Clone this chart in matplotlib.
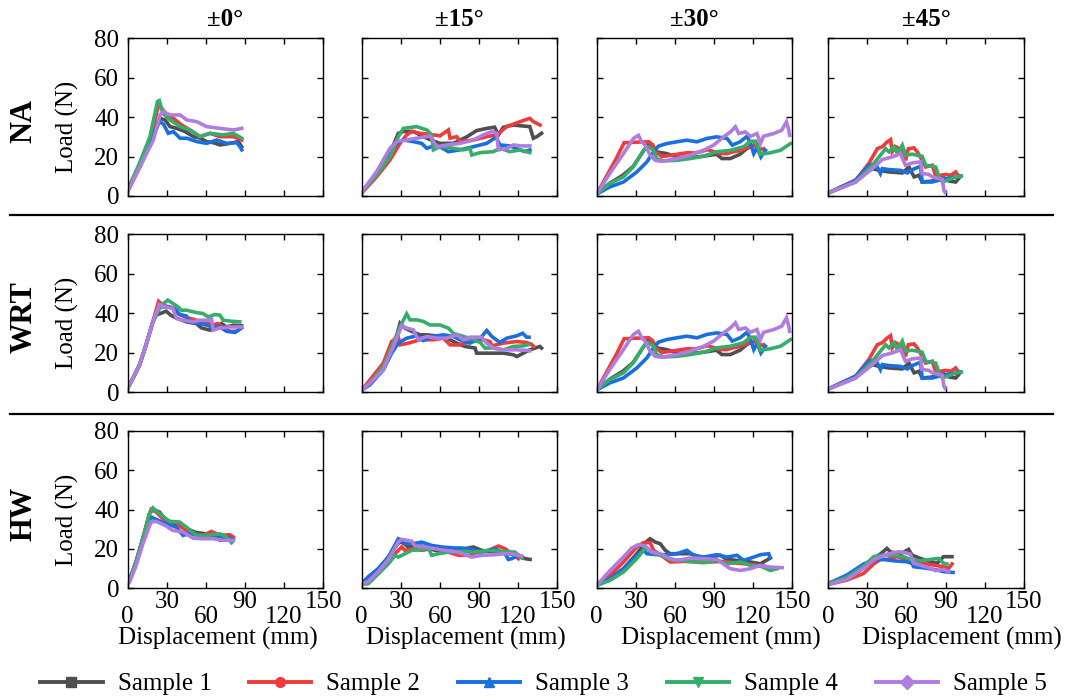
import numpy as np
import matplotlib
matplotlib.use('Agg')
from matplotlib import pyplot as plt
from matplotlib.lines import Line2D

plt.rcParams['font.family'] = ['Liberation Serif', 'DejaVu Serif']
plt.rcParams['axes.linewidth'] = 1.0

samples = ['Sample 1', 'Sample 2', 'Sample 3', 'Sample 4', 'Sample 5']
colors = ['#4f4f4f', '#ef3b3b', '#1a6fdf', '#37ad6b', '#b07ce0']
markers = ['s', 'o', '^', 'v', 'D']
angles = ['±0°', '±15°', '±30°', '±45°']
rows = ['NA', 'WRT', 'HW']
x_ticks = [0, 30, 60, 90, 120, 150]
y_ticks = [0, 20, 40, 60, 80]

# curves per panel: one (displacement, load) list per sample
na_0 = [
    [(0, 3), (9.5, 14.9), (17.1, 26.7), (22.3, 36.9), (24.8, 39.4), (28.6, 38.6), (32.5, 35.2), (37.6, 34.3),
     (44, 32.7), (50.4, 30.1), (55, 29.5), (60.6, 27.6), (66, 27), (70.8, 25.9), (78.5, 26.7), (84.9, 27.6), (87.5, 25)],
    [(0, 3), (9.5, 16.6), (17.1, 28.4), (23.5, 45.7), (26.1, 44.5), (29.9, 41.1), (35, 39.4), (41.4, 36),
     (47.8, 33.5), (55.5, 30.1), (63.2, 31.8), (70.8, 30.1), (81.1, 30.1), (87.5, 28.4)],
    [(0, 3), (9.5, 15.7), (18.4, 28.4), (24.3, 37.7), (27.4, 36.5), (31.2, 31.8), (35, 32.7), (40.2, 29.3),
     (45.3, 29.3), (53, 27.6), (60.6, 26.7), (68.3, 28.4), (76, 26.7), (83.6, 27.1), (86.2, 25), (87.5, 23.4)],
    [(0, 3), (9.5, 17.4), (17.1, 30.1), (22.8, 47.9), (24.3, 48.4), (26.9, 42), (32.5, 38.6), (40.2, 35.2),
     (47.8, 33.5), (55.5, 30.1), (63.2, 31.8), (73.4, 31), (81.1, 31.8), (87.5, 29.3)],
    [(0, 2), (9.5, 14.9), (19.7, 28.4), (24.8, 41.1), (27.4, 42.8), (32.5, 41.1), (40.2, 41.1), (45.3, 38.6),
     (53, 37.7), (60.6, 35.2), (70.8, 34.3), (81.1, 33.5), (87.5, 34.3)],
]

na_15 = [
    [(0, 2), (11.5, 11.5), (21.7, 21.7), (28.1, 31.8), (32, 32.7), (39.6, 32.7), (49.9, 29.3), (60, 26.7),
     (70.3, 26.7), (80.6, 30), (88.2, 33.2), (95.9, 34.3), (102, 34.9), (104.9, 31), (108.7, 34.9), (116.4, 36),
     (124, 35.5), (129, 35.2), (131.7, 29.3), (134.3, 30.1), (138, 31.8)],
    [(0, 1.5), (11.5, 9.8), (21.7, 18.3), (29.4, 26.7), (34.5, 31), (38.4, 32.7), (44.8, 31.8), (55, 31),
     (60, 30.5), (66.5, 33.5), (67.8, 29.3), (72.9, 30.1), (75.4, 27.6), (86, 28.4), (95.9, 30.1), (103.6, 31),
     (111.3, 35.2), (121.5, 37.7), (129, 39.4), (131.7, 37.7), (136.8, 36)],
    [(0, 2), (11.5, 11.5), (21.7, 21.7), (26.9, 26.7), (32, 28.4), (39.6, 27.6), (46, 26.7), (49.9, 24.2),
     (57.6, 25.9), (66.5, 22.5), (75.4, 23.4), (85.6, 25), (95.9, 26.7), (103, 29.8), (106.1, 25.9),
     (113.8, 25.4), (121.5, 23.4), (125.3, 22.5), (129, 23.4)],
    [(0, 2), (11.5, 10.7), (21.7, 20), (28.1, 30.1), (32, 34.3), (42.2, 35.2), (49.9, 33.5), (53.7, 31),
     (55, 23.4), (60, 25), (70.3, 24.2), (78, 23.4), (83.1, 24.2), (84.4, 20.8), (90.8, 22), (101, 22.5),
     (106.1, 24.2), (113.8, 22.5), (121.5, 23.4), (129, 22)],
    [(0, 2), (11.5, 12.4), (21.7, 24.2), (26.9, 27.6), (34.5, 28.4), (42.2, 29.3), (52.4, 30.5), (57.6, 25),
     (65.2, 25.9), (75.4, 26.7), (85.6, 28.4), (93.3, 31), (99.7, 32.7), (103.6, 31.8), (104.9, 23.4),
     (111.3, 24.2), (116.4, 25.9), (121.5, 25.4), (129, 25.4)],
]

na_30 = [
    [(0, 1), (10, 6.5), (20, 10.5), (28, 15), (35, 22), (39.7, 26.6), (46, 22.4), (53.8, 21.5), (61.5, 19.8),
     (71.8, 19.5), (82, 20.2), (92, 21.2), (96, 19), (102.5, 19), (110, 21.2), (115, 24), (120.5, 25.8), (124, 24.6)],
    [(0, 1), (5, 7), (10, 13), (15, 19), (21, 27), (30, 27.3), (40, 27.5), (43, 26), (46, 22), (50, 20),
     (55, 20.5), (60, 21), (65, 21.5), (70, 22), (75, 21.8), (80, 22.5), (85, 23.5), (90, 22.5), (95, 21.5),
     (100, 21.5), (105, 22.5), (110, 23), (115, 24.5), (120, 25.5), (124, 26), (126, 23.5), (128, 24)],
    [(0, 1), (10, 4.6), (20.5, 7.1), (30.8, 12.2), (38.5, 17.3), (43.6, 22.4), (47.4, 25.3), (53.8, 26.6),
     (61.5, 27.5), (69, 28.3), (77, 27.5), (84.6, 29.2), (92, 30), (100, 29.2), (104, 25.8), (110, 27.5),
     (115.4, 30.3), (118, 26.6), (120.5, 21.5), (123, 24.6), (126, 19.8), (129.5, 23.2)],
    [(0, 1), (10, 6.3), (20.5, 9.7), (28, 14.7), (36, 23.2), (39.7, 25), (43.6, 23.2), (46, 19), (51, 17.8),
     (61.5, 18.1), (71.8, 19), (82, 20.2), (92, 22.4), (102.5, 23.2), (112.8, 25), (118, 27.8), (122, 27.8),
     (125.6, 21.2), (133, 21.9), (141, 23.2), (148.7, 26.6)],
    [(0, 1), (10, 11.4), (20.5, 21.5), (28.2, 29.2), (32, 30.8), (34.6, 27.5), (37.2, 25.8), (41, 20.7),
     (44.9, 18.1), (50, 17.6), (61.5, 19), (71.8, 20.7), (82, 23.2), (89.7, 25.8), (97.4, 30), (102.6, 32.5),
     (106.4, 35.1), (109, 31.7), (114, 32.5), (118, 30.3), (123, 31.7), (125.6, 26.6), (128, 30.3), (136, 31.7),
     (142, 33.4), (145.6, 37.6), (147.4, 33.4), (148, 30.8)],
]

na_45 = [
    [(0, 1.5), (21, 8), (33.8, 13.9), (38.9, 13), (46.5, 12.2), (56.8, 11.7), (61.9, 14.7), (65.8, 9.7),
     (69.6, 10.5), (72, 7.1), (79.8, 7.6), (87.5, 9.7), (92.6, 7.6), (97.7, 7.1), (100, 8.8)],
    [(0, 1.5), (3, 2.5), (21, 8), (31, 16.4), (37.6, 24), (41.4, 25), (45.3, 27.5), (47.8, 28.6), (49, 22.4),
     (51.7, 25), (56.8, 23.2), (59.3, 18.1), (61.4, 24), (65.7, 24.4), (68.3, 22.4), (72, 18.1), (74.7, 14.7),
     (79.8, 15.6), (82.4, 10), (90, 11), (94, 10.5), (97.7, 12.2), (99, 11)],
    [(0, 1.5), (21, 8), (31.2, 15.6), (36.3, 16.4), (40, 11.4), (41.4, 13.9), (46.5, 13.4), (55.5, 13),
     (60.6, 11.7), (64.5, 13.4), (70.8, 15.1), (72, 7.1), (79.8, 7.1), (85, 8), (90, 8.8), (97.7, 9.7),
     (101.5, 10.2)],
    [(0, 1.5), (21, 7.1), (33.8, 15.6), (40, 20.7), (44, 24), (46.5, 22.4), (50.4, 25), (53, 21.5),
     (56.8, 25.8), (59.3, 20.7), (64.4, 21.2), (72, 20.2), (74.7, 15.6), (82.4, 14.7), (85, 9.7), (87.5, 7.1),
     (92.6, 8.3), (97.7, 9.7), (102, 10)],
    [(0, 1.5), (21, 7.1), (33.8, 13.9), (41.4, 18.5), (49, 19.8), (55.5, 21.5), (58, 17.3), (59.3, 15.6),
     (64.4, 16.8), (70.8, 17.3), (72, 11.4), (77, 11), (79.8, 9.7), (85, 8.8), (87.5, 8.5), (88.7, 2.9),
     (89.5, 2)],
]

wrt_0 = [
    [(0, 2), (3.9, 6.8), (9, 13.6), (14, 23.7), (19.3, 35.6), (21.9, 39), (29.6, 41), (33, 39), (36.9, 37.6),
     (45, 35.6), (52.7, 34.7), (56.6, 32.5), (63, 31.4), (68, 32.2), (72, 34.7), (75.8, 33), (81, 33.9),
     (87.4, 33.6)],
    [(0, 2), (3.9, 6.8), (9, 13.6), (14, 23.7), (19.3, 35.6), (23.7, 46), (27, 44), (32, 43.2), (36, 42.4),
     (38.6, 39.8), (43.7, 38.1), (52.7, 36.4), (60.4, 35.6), (64.3, 33.9), (69.4, 34.7), (73.3, 32.2),
     (78.4, 30.8), (83.5, 30.8), (87.4, 32.5)],
    [(0, 2), (3.9, 6.8), (9, 13.6), (14, 23.7), (19.3, 35.6), (24.4, 43.2), (32, 43.2), (37.3, 41.5),
     (39.8, 39.3), (45, 38.6), (47.6, 35.6), (55.3, 34.7), (61.3, 33.9), (64.3, 33), (70.7, 33), (75.8, 30.8),
     (82.3, 30.2), (86, 31.9)],
    [(0, 2), (3.9, 6.8), (9, 13.6), (14, 23.7), (19.3, 35.6), (25.7, 44), (30.8, 46.6), (34.7, 44.9),
     (38.6, 43.2), (41.1, 41.5), (45, 41.5), (52.7, 40.3), (57.8, 39.8), (61.7, 38.1), (66.8, 39.3),
     (70.7, 39), (73.3, 36.4), (79.7, 35.9), (86, 35.6)],
    [(0, 2), (3.9, 6.8), (9, 13.6), (14, 23.7), (19.3, 35.6), (24.4, 44.4), (28.3, 43.2), (34.7, 42.4),
     (37.3, 37.3), (42.4, 36.4), (50, 35.6), (55.3, 36.4), (61.7, 36.4), (64.3, 37), (65.6, 31.4),
     (70.7, 32.5), (78.4, 33), (87.4, 33)],
]

wrt_15 = [
    [(0, 1), (6.4, 4.6), (16.6, 11.3), (24.3, 22.3), (29.4, 34.9), (33.2, 32.4), (38.4, 30.7), (44.8, 29),
     (49.9, 29), (60, 28.2), (67.8, 26.5), (72.9, 24.8), (79.3, 23.1), (87, 22.3), (88.2, 19.7), (98.5, 19.7),
     (108.7, 19.7), (116.4, 18.9), (119, 18), (124, 19.7), (129, 21.4), (136.8, 23.1), (138, 22.3)],
    [(0, 1), (6.4, 6.2), (16.6, 14.7), (23, 25.6), (28, 28.2), (29.4, 23.9), (35.8, 24.8), (44.8, 26.5),
     (55, 26.5), (62.7, 27.3), (67.8, 23.9), (75.4, 23.9), (83, 25.6), (93.4, 26.5), (98.5, 25.6),
     (99.8, 23.4), (108.7, 24.8), (119, 25.6), (126.6, 25.1), (130, 24.3), (132, 23.1)],
    [(0, 1), (6.4, 3.7), (16.6, 11.3), (23, 19.7), (28, 24.8), (34.5, 27.3), (42.2, 28.5), (47.3, 26.1),
     (55, 28.2), (62.7, 29), (70.3, 28.2), (78, 25.6), (83, 24.8), (91, 27.3), (95.9, 31.2), (99.8, 28.2),
     (106, 25.1), (111.3, 27.3), (119, 28.5), (123.5, 29.8), (126.6, 27.8), (128.4, 27.8)],
    [(0, 1), (6.4, 4.6), (16.6, 13), (24.3, 24.8), (29.4, 33.2), (34.5, 39.6), (37, 36.6), (42.2, 36.6),
     (47.3, 35.8), (52.4, 34), (60, 34), (66.5, 32.4), (70.3, 29.8), (78, 28.2), (86, 26.5), (91, 25.1),
     (94.6, 22.3), (101, 22.3), (108.7, 21.4), (116.4, 23.1), (124, 23.4), (127.9, 24)],
    [(0, 1), (6.4, 4.6), (16.6, 11.3), (24.3, 23.1), (30.7, 33.6), (34.5, 32.4), (39.6, 31.5), (43.5, 26.5),
     (49.9, 28.2), (57.5, 27.3), (65.2, 27.3), (72.9, 29), (78, 26.5), (83, 27.8), (92, 27.8), (95.9, 24.8),
     (101, 22.3), (108.7, 21.4), (119, 21.4), (126.6, 21.1), (129, 20.9)],
]

# WRT at ±30° and ±45° repeat the NA curves in the source figure
wrt_30 = na_30
wrt_45 = na_45

hw_0 = [
    [(0, 3), (1.3, 4), (6.4, 13.4), (11.6, 25.2), (16.7, 37.9), (19.3, 40.1), (24.4, 38.7), (29.6, 34.5),
     (37.3, 32.8), (45, 30.3), (52.7, 28.3), (60.4, 27.7), (68.1, 26.1), (70.7, 24.4), (75.8, 25.2), (81, 24.4)],
    [(0, 3), (1.3, 4), (6.4, 13.4), (11.6, 25.2), (16.7, 37.9), (18, 40.1), (21.9, 38.7), (27, 35.4),
     (32.1, 33.7), (37.3, 33.7), (41.1, 31.1), (45, 29.4), (50.1, 27.7), (57.8, 26.9), (64.3, 28.9),
     (70.7, 26.9), (78.4, 27.2), (81, 26.1)],
    [(0, 3), (1.3, 4), (6.4, 13.4), (11.6, 25.2), (16.7, 34.5), (18, 36.2), (21.9, 35), (29.6, 32.8),
     (37.3, 31.1), (42.4, 26.9), (47.6, 27.7), (55.3, 26.9), (65.6, 26.1), (75.8, 26.1), (81, 24.9)],
    [(0, 3), (1.3, 4), (6.4, 13.4), (11.6, 25.2), (16.7, 37.9), (19.3, 40.8), (24.4, 37.9), (32.1, 34),
     (39.8, 33.7), (45, 31.1), (52.7, 26.9), (60.4, 26.9), (70.7, 27.7), (75.8, 26.1), (79.7, 23.2)],
    [(0, 2), (1.3, 3), (6.4, 11.5), (11.6, 22.5), (16.7, 31.5), (18, 33.7), (21.9, 34), (29.6, 31.6),
     (34.7, 29.4), (42.4, 28.6), (50.1, 25.5), (57.8, 25.2), (65.6, 25.2), (73.3, 24.4), (81, 24.4)],
]

hw_15 = [
    [(0, 2.4), (5.1, 5.8), (12.8, 10), (20.5, 15.9), (28.1, 23), (30.7, 23.5), (35.8, 21), (46, 21.5),
     (56.3, 19.3), (66.5, 18.4), (76.7, 19.8), (85.7, 21), (92.1, 19.3), (102.3, 18.4), (112.5, 17.6),
     (120.2, 16.8), (125.3, 15.1), (129.2, 14.7)],
    [(0, 2), (5.1, 3.2), (12.8, 8.3), (20.5, 13.4), (25.6, 17.6), (30.7, 21), (33.2, 19.3), (38.4, 20.1),
     (46, 19.3), (56.3, 20.5), (66.5, 18.4), (74.2, 16.8), (81.8, 16.8), (89.5, 18.4), (97.2, 19.3),
     (104.9, 21.5), (110, 20.1), (115.1, 17.6), (120.2, 15.1)],
    [(0, 2.4), (5.1, 5.8), (12.8, 10), (20.5, 15.9), (28.1, 25.2), (30.7, 24.4), (33.2, 22.7), (39.6, 22.7),
     (46, 23.5), (53.7, 21.8), (61.4, 21), (71.6, 20.5), (76.7, 20.5), (84.4, 19.8), (92.1, 18.4),
     (102.3, 20.1), (110, 17.6), (112.5, 14.7), (115.1, 15.1), (120.2, 16.8)],
    [(0, 2), (5.1, 2.4), (12.8, 7.4), (20.5, 12.5), (25.6, 16.8), (28.1, 15.9), (33.2, 17.6), (38.4, 19.3),
     (48.6, 19.8), (51.2, 20.5), (53.7, 16.8), (58.8, 17.6), (66.5, 18.4), (76.7, 18.8), (87, 18.4),
     (97.2, 19.3), (107.4, 18.8), (117.6, 18.4), (122.8, 15.4)],
    [(0, 2), (5.1, 3.6), (12.8, 8.6), (20.5, 14.7), (28.1, 23.5), (30.7, 24.9), (38.4, 23.9), (40.9, 21.5),
     (48.6, 21), (56.3, 20.1), (64, 19.3), (74.2, 18.4), (79.3, 17.1), (84.4, 15.9), (92.1, 16.8),
     (102.3, 17.1), (110, 17.6), (115.1, 17.6), (122.8, 16.4)],
]

hw_30 = [
    [(0, 1.5), (10.3, 4.9), (20.5, 10), (30.8, 17.6), (37.2, 23.2), (41, 25.2), (44.9, 23.5), (48.7, 22.7),
     (52.6, 19.3), (56.4, 17.6), (64.1, 17.6), (71.8, 17.6), (79.5, 15.9), (87.2, 15.9), (94.9, 16.8),
     (100, 14.7), (107.7, 14.2), (117.9, 13.4), (125.6, 12.5), (133.3, 15.4)],
    [(0, 1.5), (10.3, 6.6), (20.5, 13.4), (30.8, 21), (35.9, 23.2), (41, 23.2), (43.6, 19.3), (48.7, 17.1),
     (56.4, 13.4), (66.7, 13.7), (76.9, 13.4), (87.2, 13.4), (97.4, 13.7), (105.1, 13), (112.8, 12.5),
     (120.5, 12), (125.6, 11.3), (128.2, 11.2)],
    [(0, 1.5), (10.3, 4.9), (20.5, 10), (30.8, 16.8), (35.9, 19.3), (38.5, 17.6), (46.2, 17.1), (53.8, 17.1),
     (61.5, 17.6), (69.2, 19.3), (74.4, 16.8), (82, 15.9), (92.3, 17.1), (100, 15.9), (107.7, 16.8),
     (112.8, 14.2), (120.5, 15.9), (125.6, 17.1), (132, 17.6), (132.8, 15.9)],
    [(0, 1.5), (10.3, 4.1), (20.5, 8.3), (30.8, 15.1), (37.2, 20.5), (42.3, 18.4), (48.7, 16.8), (56.4, 14.7),
     (64.1, 14.2), (71.8, 13.7), (82, 13), (92.3, 14.2), (100, 12.5), (110.3, 13.4), (117.9, 11.7),
     (125.6, 11.3), (133.3, 9.1), (138.5, 10)],
    [(0, 1.5), (10.3, 9.1), (20.5, 15.9), (26.9, 20.5), (32, 22.2), (37.2, 21.5), (42.3, 18.4), (48.7, 17.6),
     (56.4, 15.1), (61.5, 14.2), (71.8, 15.4), (82, 15.1), (92.3, 14.7), (98.7, 11.7), (102.5, 10),
     (110.3, 9.1), (117.9, 10), (125.6, 11.7), (133.3, 10.8), (142.3, 10.5)],
]

hw_45 = [
    [(0, 2.5), (14.3, 5.9), (27.1, 11), (34.8, 15.2), (39.9, 17.4), (45, 20.3), (47.6, 18.6), (55.1, 17.4),
     (61.6, 19.8), (64.2, 16.9), (70.6, 15.2), (78.3, 13.5), (83.4, 12.7), (88.5, 16.1), (94.9, 16.1)],
    [(0, 2), (14.3, 4.2), (27.1, 7.6), (34.8, 12.4), (39.9, 14.7), (45, 14.7), (52.7, 16.1), (60.4, 14.7),
     (65.5, 13.5), (73.1, 12.7), (80.8, 11.8), (88.5, 11), (92.3, 10.2), (94.9, 12.4)],
    [(0, 2.5), (14.3, 6.8), (27.1, 12.4), (34.8, 14.4), (42.5, 14.7), (50.1, 14), (60.4, 13.5), (64.2, 12.7),
     (65.5, 11), (75.7, 10.2), (83.4, 9.3), (88.5, 8.5), (95.7, 8.1)],
    [(0, 2.5), (14.3, 5.6), (27.1, 11.3), (34.8, 16.1), (42.5, 16.9), (50.1, 16.9), (57.8, 16.1),
     (62.9, 14.7), (70.6, 14), (78.3, 14.7), (84.7, 15.2), (88.5, 12.7), (91, 12.4)],
    [(0, 2), (14.3, 4.6), (27.1, 10.2), (34.8, 14.4), (45, 17.4), (54, 18.6), (59.1, 18.1), (62.9, 17.4),
     (65.5, 12.7), (70.6, 11.8), (78.3, 10.2), (82.1, 9), (88.5, 9.6), (92.3, 8.5)],
]

panels = [[na_0, na_15, na_30, na_45],
          [wrt_0, wrt_15, wrt_30, wrt_45],
          [hw_0, hw_15, hw_30, hw_45]]

W, H = 1074, 700
fig = plt.figure(figsize=(W / 100, H / 100), dpi=100)

col_left = [127.7, 361.7, 596.7, 828.3]
row_top = [38.3, 234.3, 430.7]
aw, ah = 195.5, 157.7
xlabel_center = [218, 466, 721, 962]
fs = 18

for r in range(3):
    for c in range(4):
        ax = fig.add_axes([col_left[c] / W, 1 - (row_top[r] + ah) / H, aw / W, ah / H])
        for i, curve in enumerate(panels[r][c]):
            xs, ys = zip(*curve)
            ax.plot(xs, ys, color=colors[i], lw=2.6, solid_joinstyle='miter')
        ax.set_xlim(0, 150)
        ax.set_ylim(0, 80)
        ax.set_yticks(y_ticks)
        ax.set_xticks(x_ticks[0::2])
        ax.set_xticks(x_ticks[1::2], minor=True)
        ax.tick_params(which='both', direction='in', top=True, right=True, length=4, width=1,
                       labelsize=fs)
        ax.tick_params(axis='x', which='major', pad=13)
        ax.tick_params(axis='x', which='minor', pad=2)
        ax.tick_params(axis='y', pad=6)
        if c > 0:
            ax.set_yticklabels([])
        if r < 2:
            ax.set_xticklabels([])
            ax.set_xticklabels([], minor=True)
        else:
            ax.set_xticklabels([str(v) for v in x_ticks[0::2]])
            ax.set_xticklabels([str(v) for v in x_ticks[1::2]], minor=True)
            ax.set_xlabel('Displacement (mm)', fontsize=fs)
            ax.xaxis.set_label_coords((xlabel_center[c] - col_left[c]) / aw, -0.245)
        if r == 0:
            fig.text((col_left[c] + aw / 2) / W, 1 - 19 / H, angles[c], fontsize=fs,
                     fontweight='bold', ha='center', va='center')
    yc = row_top[r] + ah / 2
    fig.text(24 / W, 1 - (yc + 4) / H, rows[r], rotation=90, fontsize=22, fontweight='bold',
             ha='center', va='center')
    fig.text(67 / W, 1 - (yc + 10) / H, 'Load (N)', rotation=90, fontsize=fs,
             ha='center', va='center')

# separators between rows
for y in [215, 414]:
    fig.add_artist(Line2D([10 / W, 1053 / W], [1 - y / H, 1 - y / H], color='k', lw=1.6))

handles = [Line2D([], [], color=colors[i], marker=markers[i], lw=2.8, markersize=7)
           for i in range(5)]
fig.legend(handles, samples, loc='center', bbox_to_anchor=(0.506, 1 - 684 / H), ncol=5,
           frameon=False, fontsize=fs, handlelength=2.5, handletextpad=0.6, columnspacing=1.5)

fig.savefig('out.png', dpi=100)
